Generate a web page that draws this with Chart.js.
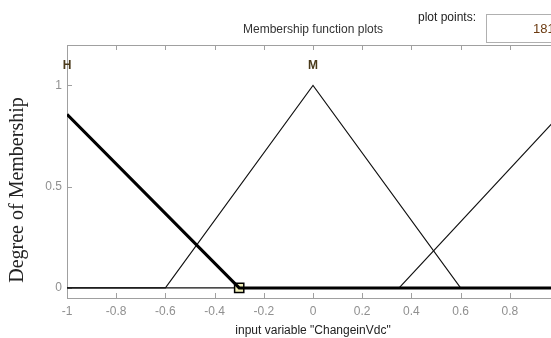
<!DOCTYPE html>
<html>
<head>
<meta charset="utf-8">
<script src="https://cdn.jsdelivr.net/npm/chart.js@4.4.1/dist/chart.umd.min.js"></script>
<style>
  html, body { margin: 0; padding: 0; background: #fff; overflow: hidden; width: 551px; height: 338px; }
  #wrap { position: absolute; left: 0; top: 0; width: 600px; height: 338px; }
  .txt { position: absolute; font-family: "Liberation Sans", Arial, sans-serif; white-space: nowrap; }
  #title { left: 243px; top: 22px; font-size: 12px; color: #333; }
  #pp { left: 418px; top: 10px; font-size: 12px; color: #222; }
  #ppbox { position: absolute; left: 486px; top: 14px; width: 90px; height: 27px; border: 1px solid #b0b0b0; background: #fff; }
  #ppval { left: 533px; top: 21px; font-size: 13px; color: #6b3a10; }
</style>
</head>
<body>
<div id="wrap"><canvas id="c"></canvas></div>
<div class="txt" id="title">Membership function plots</div>
<div class="txt" id="pp">plot points:</div>
<div id="ppbox"></div>
<div class="txt" id="ppval">181</div>
<script>
// ---- data ----
const xTickValues = [-1, -0.8, -0.6, -0.4, -0.2, 0, 0.2, 0.4, 0.6, 0.8, 1];
const yTickValues = [0, 0.5, 1];
const mfNames = ['H', 'M', 'L'];
const mfLabelX = [-1, 0, 1];
const mfLabelY = 1.1;
const hX = [-1, -0.3, 1];
const hY = [0.857, 0, 0];
const mX = [-1, -0.6, 0, 0.6, 1];
const mY = [0, 0, 1, 0, 0];
const lX = [-1, 0.35, 1];
const lY = [0, 0, 0.85];
const markerX = [-0.3];
const markerY = [0];
const xTitle = 'input variable "ChangeinVdc"';
const yTitle = 'Degree of Membership';

const pts = (xs, ys) => xs.map((x, i) => ({x: x, y: ys[i]}));

const framePlugin = {
  id: 'frame',
  beforeDatasetsDraw(chart) {
    const {ctx, chartArea: a, scales: {x, y}} = chart;
    ctx.save();
    ctx.strokeStyle = '#a0a0a0';
    ctx.lineWidth = 1;
    ctx.strokeRect(Math.round(a.left) + 0.5, Math.round(a.top) + 0.5, Math.round(a.right - a.left), Math.round(a.bottom - a.top));
    ctx.beginPath();
    xTickValues.forEach(v => {
      const px = Math.round(x.getPixelForValue(v)) + 0.5;
      ctx.moveTo(px, a.bottom); ctx.lineTo(px, a.bottom - 5);
      ctx.moveTo(px, a.top); ctx.lineTo(px, a.top + 5);
    });
    yTickValues.forEach(v => {
      const py = Math.round(y.getPixelForValue(v)) + 0.5;
      ctx.moveTo(a.left, py); ctx.lineTo(a.left + 5, py);
      ctx.moveTo(a.right, py); ctx.lineTo(a.right - 5, py);
    });
    ctx.stroke();
    ctx.restore();
  },
  afterDraw(chart) {
    const {ctx, chartArea: a, scales: {x, y}} = chart;
    ctx.save();
    ctx.fillStyle = '#4a3a1a';
    ctx.font = 'bold 12px "Liberation Sans", Arial, sans-serif';
    ctx.textAlign = 'center';
    ctx.textBaseline = 'middle';
    mfNames.forEach((n, i) => {
      ctx.fillText(n, x.getPixelForValue(mfLabelX[i]), y.getPixelForValue(mfLabelY));
    });
    ctx.translate(18, 190);
    ctx.rotate(-Math.PI / 2);
    ctx.fillStyle = '#222';
    ctx.font = '20px "Liberation Serif", "Times New Roman", serif';
    ctx.fillText(yTitle, 0, 0);
    ctx.restore();
  }
};

new Chart(document.getElementById('c'), {
  type: 'line',
  data: {
    datasets: [
      { label: mfNames[0], data: pts(hX, hY), borderColor: '#000', borderWidth: 3, pointRadius: 0, order: 0 },
      { label: 'marker', data: pts(markerX, markerY), showLine: false, pointStyle: 'rect', pointRadius: 6.5,
        pointBackgroundColor: '#f2f0b8', pointBorderColor: '#000', pointBorderWidth: 1.5, order: 1 },
      { label: mfNames[1], data: pts(mX, mY), borderColor: '#111', borderWidth: 1.1, pointRadius: 0, order: 2 },
      { label: mfNames[2], data: pts(lX, lY), borderColor: '#111', borderWidth: 1.1, pointRadius: 0, order: 3 }
    ]
  },
  options: {
    responsive: true,
    maintainAspectRatio: false,
    animation: false,
    layout: { padding: { left: 0, right: 41, top: 45, bottom: 0 } },
    plugins: { legend: { display: false }, tooltip: { enabled: false }, title: { display: false } },
    scales: {
      x: {
        type: 'linear', min: -1, max: 1,
        afterBuildTicks: s => { s.ticks = xTickValues.map(v => ({value: v})); },
        afterFit: s => { s.height = 40; },
        grid: { display: false, drawTicks: false },
        border: { display: false },
        ticks: { padding: 6, color: '#909090', font: { family: '"Liberation Sans", Arial, sans-serif', size: 12 },
                 maxRotation: 0, autoSkip: false, callback: v => String(v) },
        title: { display: true, text: xTitle, color: '#222', font: { family: '"Liberation Sans", Arial, sans-serif', size: 12 },
                 padding: { top: 1, bottom: 0 } }
      },
      y: {
        type: 'linear', min: -0.05, max: 1.2,
        afterBuildTicks: s => { s.ticks = yTickValues.map(v => ({value: v})); },
        afterFit: s => { s.width = 67; },
        grid: { display: false, drawTicks: false },
        border: { display: false },
        ticks: { padding: 5, color: '#909090', font: { family: '"Liberation Sans", Arial, sans-serif', size: 12 },
                 callback: v => String(v) }
      }
    }
  },
  plugins: [framePlugin]
});
</script>
</body>
</html>
